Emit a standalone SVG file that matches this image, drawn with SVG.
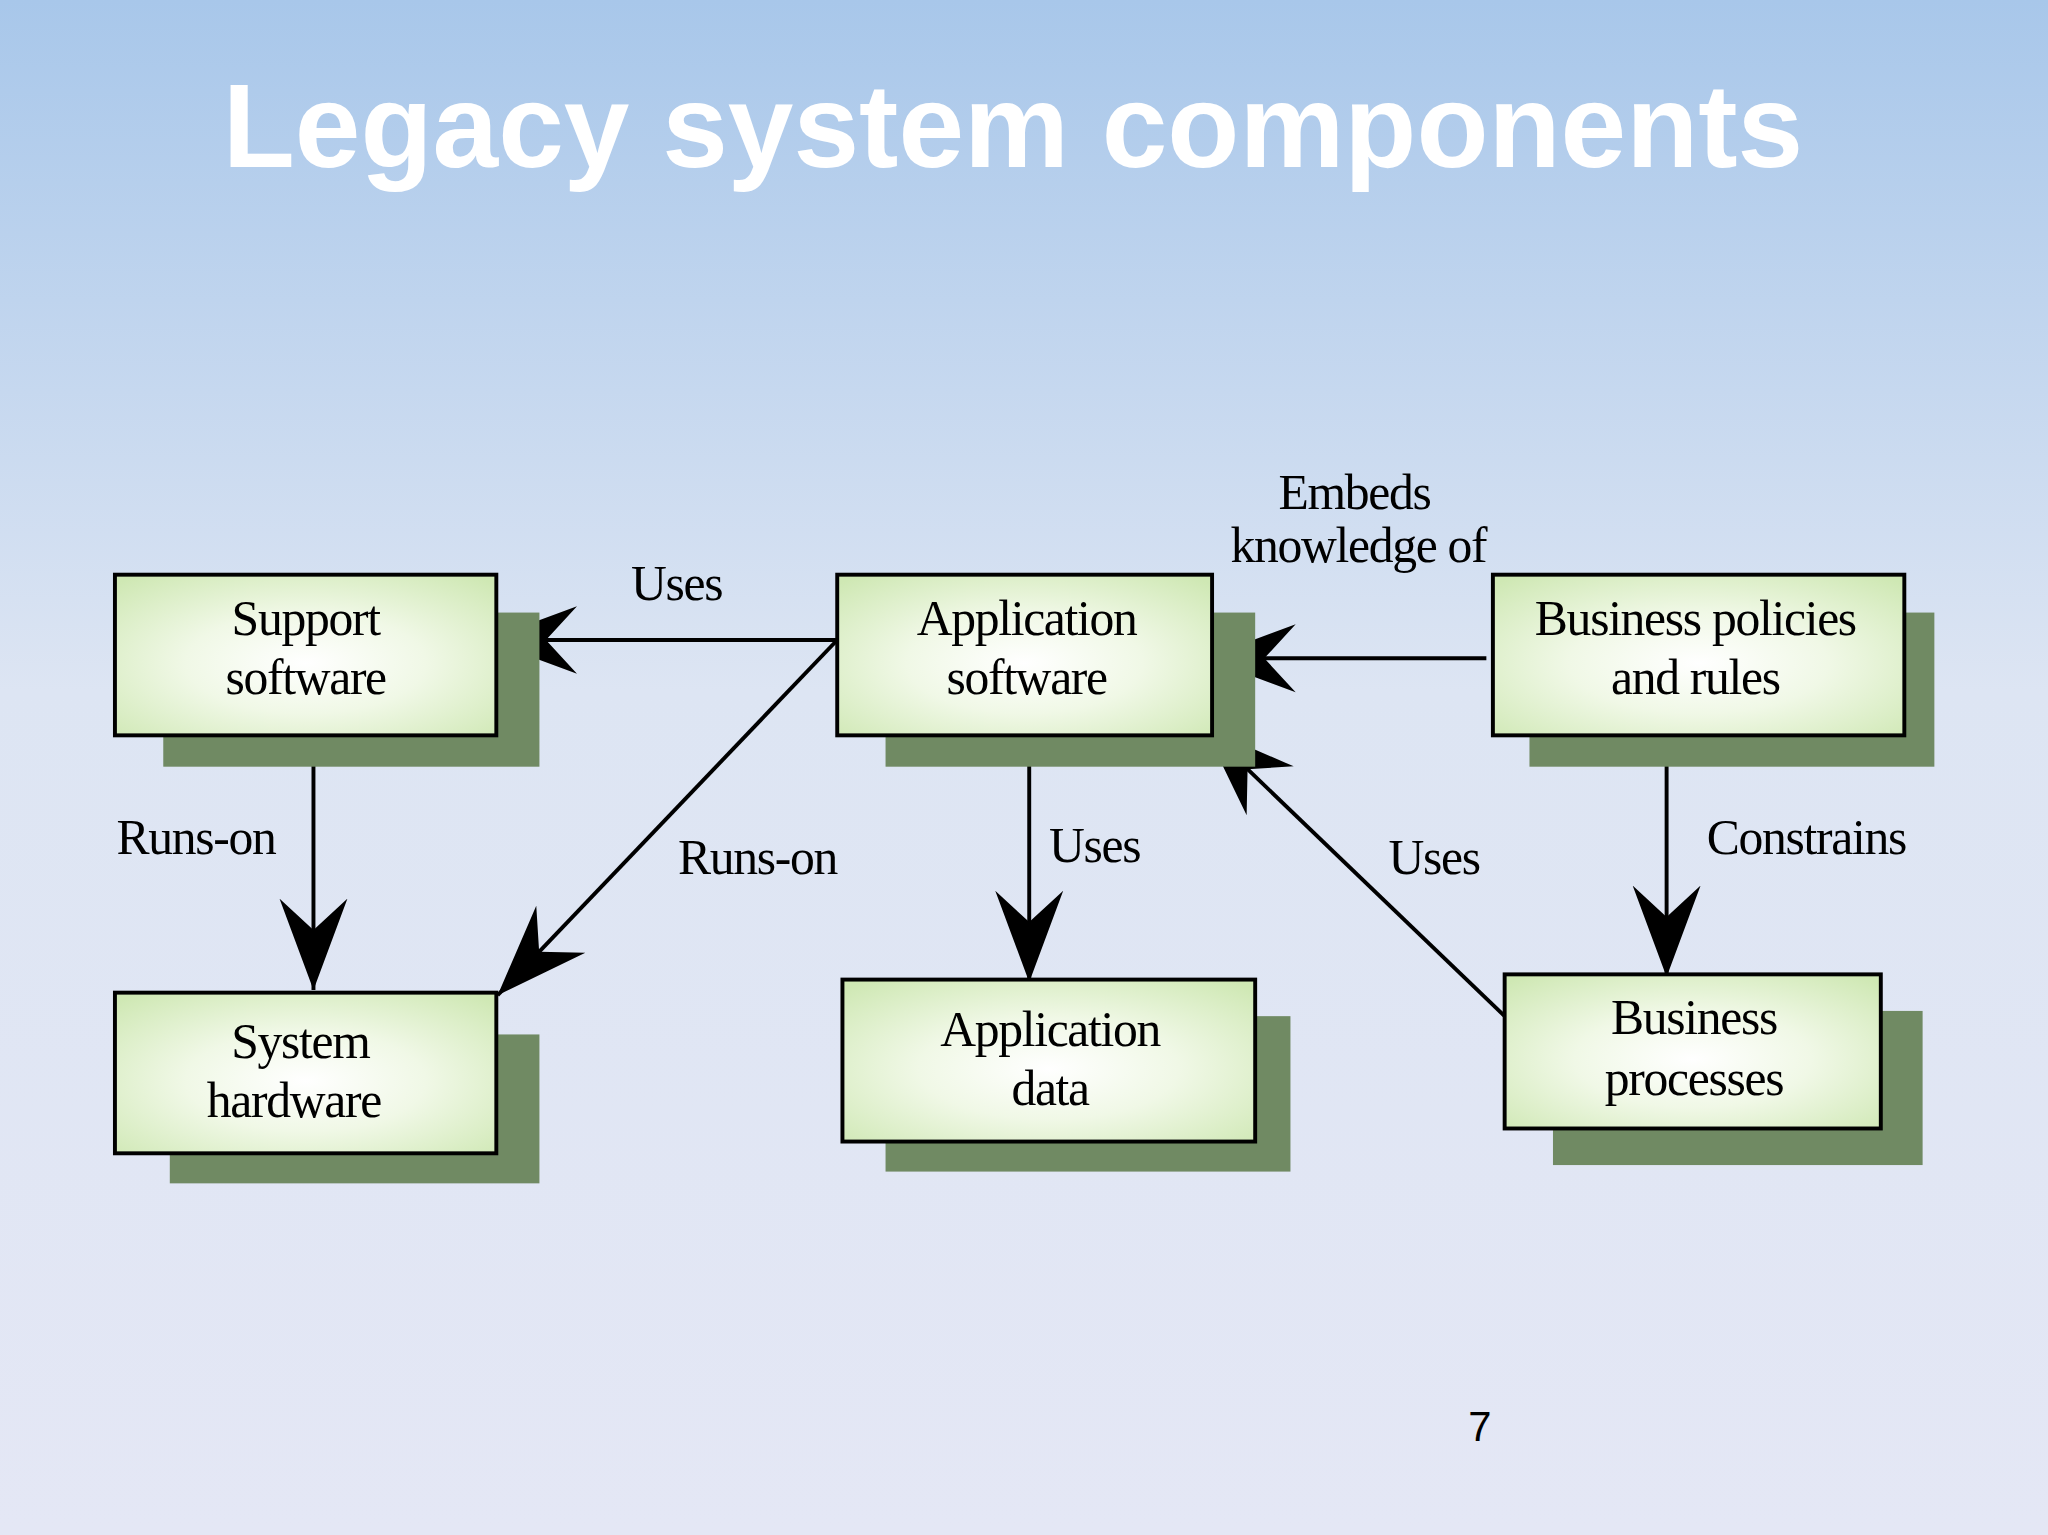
<svg xmlns="http://www.w3.org/2000/svg" width="2048" height="1535" viewBox="0 0 2048 1535">
<defs>
<linearGradient id="bg" x1="0" y1="0" x2="0" y2="1">
<stop offset="0" stop-color="#a8c7ea"/>
<stop offset="0.45" stop-color="#dde5f3"/>
<stop offset="1" stop-color="#e4e7f5"/>
</linearGradient>
<radialGradient id="bx" cx="0.5" cy="0.55" r="0.7">
<stop offset="0" stop-color="#ffffff"/>
<stop offset="0.45" stop-color="#f0f8e6"/>
<stop offset="1" stop-color="#cfe8b4"/>
</radialGradient>
<marker id="ah" markerUnits="userSpaceOnUse" markerWidth="80" markerHeight="60" viewBox="-70 -30 80 60" refX="0" refY="0" orient="auto">
<path d="M0,0 L-70,-26 L-46,0 L-70,26 Z" fill="#000"/>
</marker>
<style>
.sh{fill:#708a63}
.bx{fill:url(#bx);stroke:#000;stroke-width:3}
.t{font-family:"Liberation Serif",serif;font-size:38px;fill:#000;text-anchor:middle;letter-spacing:-1px}
.c{stroke:#000;stroke-width:3;fill:none;marker-end:url(#ah)}
</style>
</defs>
<rect width="2048" height="1535" fill="url(#bg)"/>
<text x="1013" y="167" font-family="Liberation Sans,Arial,sans-serif" font-weight="bold" font-size="118" fill="#fff" text-anchor="middle">Legacy system components</text>
<g transform="scale(1.30612)">
<g id="connectors">
<line class="c" x1="641" y1="490" x2="372" y2="490"/>
<line class="c" x1="240" y1="563" x2="240" y2="758"/>
<line class="c" x1="641" y1="490" x2="381" y2="762"/>
<line class="c" x1="788" y1="563" x2="788" y2="752"/>
<line class="c" x1="1138" y1="504" x2="922" y2="504"/>
<line class="c" x1="1152" y1="778" x2="922" y2="557"/>
<line class="c" x1="1276" y1="563" x2="1276" y2="748"/>
<text class="t" x="518" y="459">Uses</text>
<text class="t" x="150" y="654">Runs-on</text>
<text class="t" x="580" y="669">Runs-on</text>
<text class="t" x="838" y="660">Uses</text>
<text class="t" x="1037" y="390">Embeds</text>
<text class="t" x="1040" y="430">knowledge of</text>
<text class="t" x="1098" y="669">Uses</text>
<text class="t" x="1383" y="654">Constrains</text>
</g>
<g id="support-software"><rect class="sh" x="125" y="469" width="288" height="118"/><rect class="bx" x="88" y="440" width="292" height="123"/><text class="t" x="234" y="486">Support</text><text class="t" x="234" y="531">software</text></g>
<g id="application-software"><rect class="sh" x="678" y="469" width="283" height="118"/><rect class="bx" x="641" y="440" width="287" height="123"/><text class="t" x="786" y="486">Application</text><text class="t" x="786" y="531">software</text></g>
<g id="business-policies"><rect class="sh" x="1171" y="469" width="310" height="118"/><rect class="bx" x="1143" y="440" width="315" height="123"/><text class="t" x="1298" y="486">Business policies</text><text class="t" x="1298" y="531">and rules</text></g>
<g id="system-hardware"><rect class="sh" x="130" y="792" width="283" height="114"/><rect class="bx" x="88" y="760" width="292" height="123"/><text class="t" x="230" y="810">System</text><text class="t" x="225" y="855">hardware</text></g>
<g id="application-data"><rect class="sh" x="678" y="778" width="310" height="119"/><rect class="bx" x="645" y="750" width="316" height="124"/><text class="t" x="804" y="801">Application</text><text class="t" x="804" y="846">data</text></g>
<g id="business-processes"><rect class="sh" x="1189" y="774" width="283" height="118"/><rect class="bx" x="1152" y="746" width="288" height="118"/><text class="t" x="1297" y="792">Business</text><text class="t" x="1297" y="838">processes</text></g>
<text x="1133" y="1103" font-family="Liberation Sans,Arial,sans-serif" font-size="32" fill="#000" text-anchor="middle">7</text>
</g>
</svg>
